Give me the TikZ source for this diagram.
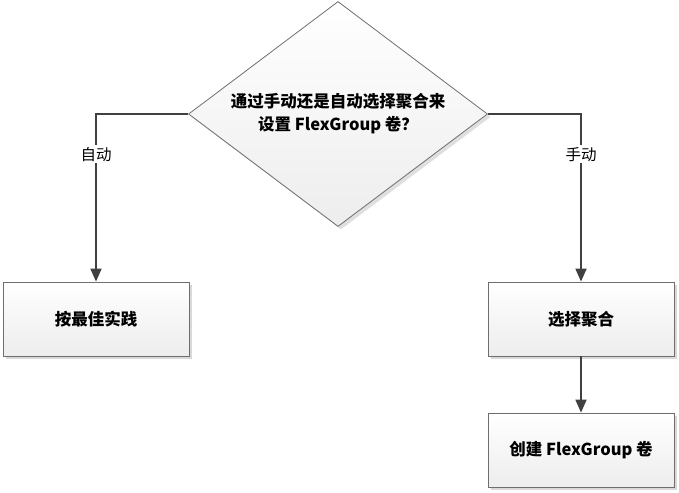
\documentclass[tikz,border=0pt]{standalone}
\usepackage{fontspec}
\newfontfamily\cjk{Noto Sans CJK SC}
\usetikzlibrary{shapes.geometric,arrows.meta,shadows}

\definecolor{linegray}{HTML}{404040}
\definecolor{edgegray}{HTML}{6E6E6E}

\begin{document}
\begin{tikzpicture}[x=1pt, y=-1pt, font=\cjk\fontsize{15.5}{19}\selectfont,
  flowbox/.style={draw=edgegray, line width=0.8pt, top color=white, bottom color=gray!14,
    minimum width=186pt, minimum height=74pt, inner sep=0pt,
    font=\cjk\bfseries\fontsize{16.5}{20}\selectfont,
    drop shadow={shadow xshift=3pt, shadow yshift=-3pt, fill=gray!30, opacity=1}},
  decision/.style={diamond, aspect=1.33, draw=edgegray, line width=0.8pt, top color=white, bottom color=gray!14,
    minimum width=299pt, minimum height=225pt, inner sep=0pt, align=center,
    font=\cjk\bfseries\fontsize{16.5}{23}\selectfont,
    drop shadow={shadow xshift=3pt, shadow yshift=-3pt, fill=gray!25, opacity=1}},
  flow/.style={draw=linegray, line width=1.8pt, -{Triangle[width=11pt,length=13pt]}},
  lbl/.style={fill=white, inner sep=2pt, font=\cjk\fontsize{15.5}{19}\selectfont}]
  \useasboundingbox (0,0) rectangle (679,492);

  \node[decision] (decide) at (338,114) {通过手动还是自动选择聚合来\\设置 FlexGroup 卷？};
  \node[flowbox] (best) at (96,319) {按最佳实践};
  \node[flowbox] (pick) at (581,319) {选择聚合};
  \node[flowbox] (create) at (581,450) {创建 FlexGroup 卷};

  \draw[flow] (decide.west) -| node[lbl, pos=0.62] {自动} (best.north);
  \draw[flow] (decide.east) -| node[lbl, pos=0.62] {手动} (pick.north);
  \draw[flow] (pick.south) -- (create.north);
\end{tikzpicture}
\end{document}
